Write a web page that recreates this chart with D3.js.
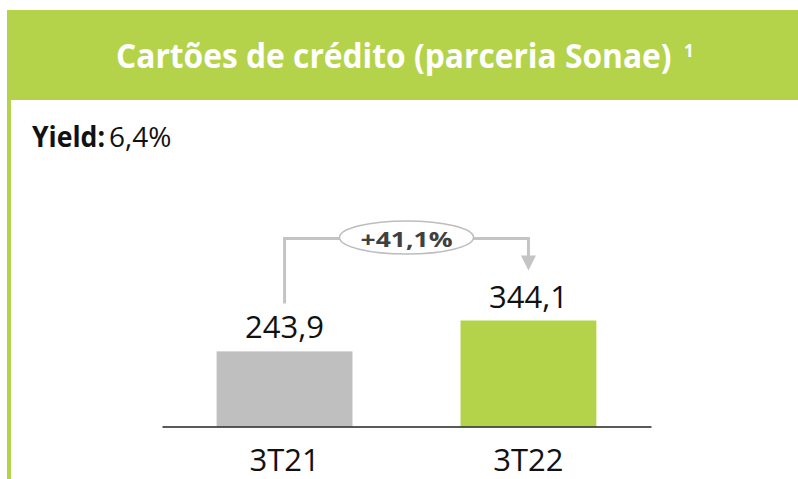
<!DOCTYPE html>
<html lang="pt">
	<head>
		<meta charset="utf-8">
		<title>Cartões de crédito</title>
		<script type="text/javascript" src="https://cdn.jsdelivr.net/npm/d3@7"></script>
		<style>
			body{ margin:0; background:white; }
			svg{ display:block; font-family:"Open Sans", sans-serif; }
		</style>
	</head>
	<body>
		<div id="chart"></div>
		<script type="text/javascript">
			// data
			var categories = ["3T21", "3T22"]
			var values = [243.9, 344.1]
			var valueLabels = ["243,9", "344,1"]
			var barColors = ["#bfbfbf", "#b5d34a"]
			var growthLabel = "+41,1%"
			var titleText = "Cartões de crédito (parceria Sonae)"
			var yieldLabel = "Yield:"
			var yieldValue = "6,4%"

			var w = 798
			var h = 479
			var green = "#b5d34a"

			var svg = d3.select("#chart").append("svg")
			.attr("width", w)
			.attr("height", h)

			// header box + left border
			svg.append("rect")
			.attr("x", 7).attr("y", 10)
			.attr("width", w - 7).attr("height", 90)
			.attr("fill", green)
			svg.append("rect")
			.attr("x", 7).attr("y", 100)
			.attr("width", 4).attr("height", h - 100)
			.attr("fill", green)

			// title squeezed horizontally (condensed look)
			var title = svg.append("text")
			.attr("font-size", 34).attr("font-weight", "bold")
			.attr("fill", "white")
			.text(titleText)
			var tw = title.node().getComputedTextLength()
			title.attr("transform", "translate(116,68) scale(" + (556 / tw) + ",1)")

			svg.append("text")
			.attr("x", 684).attr("y", 57)
			.attr("font-size", 17).attr("font-weight", "bold")
			.attr("fill", "white")
			.text("1")

			var yieldText = svg.append("text")
			.attr("x", 32).attr("y", 147)
			.attr("font-size", 28)
			.attr("fill", "#111")
			yieldText.append("tspan").attr("font-weight", "bold").attr("textLength", 73).attr("lengthAdjust", "spacingAndGlyphs").text(yieldLabel)
			yieldText.append("tspan").attr("dx", 4).text(yieldValue)

			// scales
			var xScale = d3.scaleBand()
			.domain(categories)
			.range([162, 651])
			.paddingInner(0.443)
			.paddingOuter(0.224)

			var yScale = d3.scaleLinear()
			.domain([0, 1000])
			.range([426.5, 118.5])

			svg.selectAll(".bar")
			.data(values)
			.enter()
			.append("rect")
			.attr("class", "bar")
			.attr("x", function(d, i){ return xScale(categories[i]) })
			.attr("y", function(d){ return yScale(d) })
			.attr("width", xScale.bandwidth())
			.attr("height", function(d){ return yScale(0) - yScale(d) })
			.attr("fill", function(d, i){ return barColors[i] })

			svg.selectAll(".val")
			.data(values)
			.enter()
			.append("text")
			.attr("class", "val")
			.attr("x", function(d, i){ return xScale(categories[i]) + xScale.bandwidth() / 2 })
			.attr("y", function(d){ return yScale(d) - 13 })
			.attr("text-anchor", "middle")
			.attr("font-size", 31)
			.attr("fill", "#111")
			.text(function(d, i){ return valueLabels[i] })

			var xAxis = d3.axisBottom(xScale)
			.tickSize(0)
			.tickPadding(22)

			var axisG = svg.append("g")
			.attr("transform", "translate(0," + yScale(0) + ")")
			.call(xAxis)
			axisG.select(".domain").attr("stroke", "#222").attr("stroke-width", 1.5)
			axisG.selectAll("text")
			.attr("font-size", 31)
			.attr("font-family", "'Open Sans', sans-serif")
			.attr("fill", "#111")

			// growth bracket
			var x1 = xScale(categories[0]) + xScale.bandwidth() / 2
			var x2 = xScale(categories[1]) + xScale.bandwidth() / 2
			var bracketY = yScale(values[1]) - 82
			var lineColor = "#c4c4c4"

			svg.append("path")
			.attr("d", "M" + x1 + "," + (yScale(values[0]) - 48) + " V" + bracketY + " H" + x2 + " V" + (bracketY + 18))
			.attr("fill", "none")
			.attr("stroke", lineColor)
			.attr("stroke-width", 3)

			svg.append("path")
			.attr("d", "M" + (x2 - 7.5) + "," + (bracketY + 17) + " L" + (x2 + 7.5) + "," + (bracketY + 17) + " L" + x2 + "," + (bracketY + 32) + "Z")
			.attr("fill", lineColor)

			svg.append("ellipse")
			.attr("cx", (x1 + x2) / 2)
			.attr("cy", bracketY - 1)
			.attr("rx", 67)
			.attr("ry", 16.5)
			.attr("fill", "white")
			.attr("stroke", "#bdbdbd")
			.attr("stroke-width", 1.5)

			svg.append("text")
			.attr("x", (x1 + x2) / 2 - 46)
			.attr("y", bracketY + 8.5)
			.attr("textLength", 92)
			.attr("lengthAdjust", "spacingAndGlyphs")
			.attr("font-size", 21)
			.attr("font-weight", "bold")
			.attr("fill", "#404040")
			.text(growthLabel)
		</script>
	</body>
</html>
